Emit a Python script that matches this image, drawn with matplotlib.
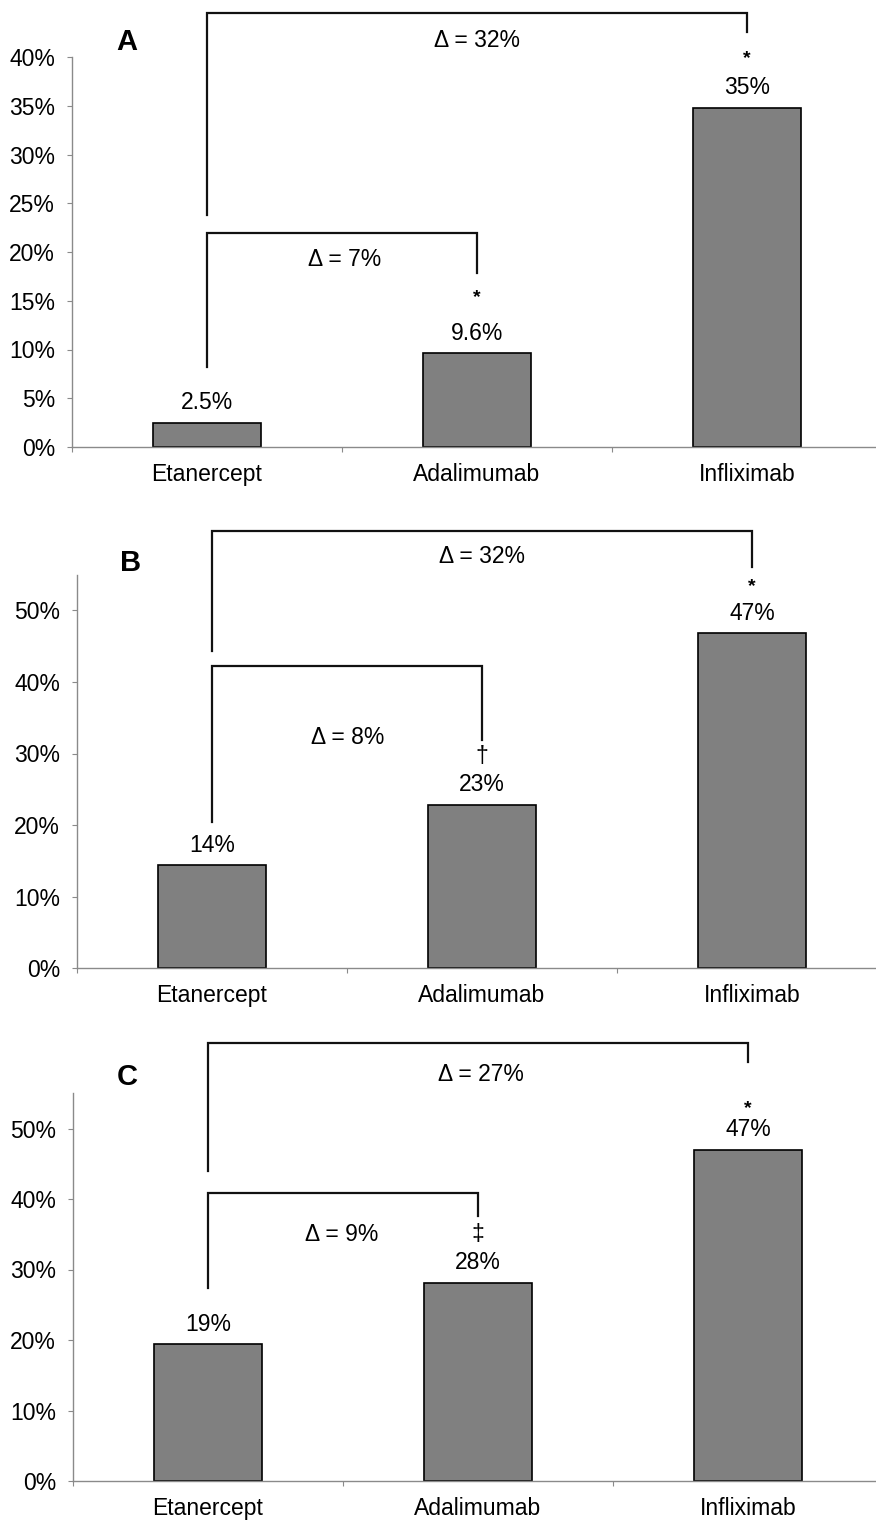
import matplotlib

matplotlib.use("Agg")

import matplotlib.pyplot as plt
from matplotlib.ticker import FixedLocator, PercentFormatter

plt.rcParams["font.family"] = ["Liberation Sans", "DejaVu Sans"]

W, H = 876, 1522
DPI = 100
PX = 72 / DPI  # points per pixel

DRUGS = ["Etanercept", "Adalimumab", "Infliximab"]

# Percentage of patients per agent, one list per panel
RATES_A = [2.5, 9.6, 34.8]
RATES_B = [14.4, 22.8, 46.8]
RATES_C = [19.4, 28.1, 47.0]

# Significance marks above each bar
MARKS_A = ["", "*", "*"]
MARKS_B = ["", "\u2020", "*"]
MARKS_C = ["", "\u2021", "*"]

# Differences versus etanercept: (adalimumab, infliximab)
DELTAS_A = [7, 32]
DELTAS_B = [8, 32]
DELTAS_C = [9, 27]

GRAY = "#808080"
SPINE = "#8a8a8a"
FS = 16.5

# Layout per panel: axes box in pixels, y range, bracket geometry (data units)
PANELS = [
    dict(letter="A", rates=RATES_A, marks=MARKS_A, deltas=DELTAS_A,
         left=72, bottom=447, ymax=40, step=5, px_per=9.75, letter_xy=(127, 42),
         small=(8.2, 21.9, 17.8), big=(23.8, 44.5, 42.6),
         small_txt=(0.51, 19.2), big_txt=(1.0, 41.7), mark_px=[0, 56, 49]),
    dict(letter="B", rates=RATES_B, marks=MARKS_B, deltas=DELTAS_B,
         left=77, bottom=968, ymax=55, step=10, px_per=7.15, letter_xy=(131, 563),
         small=(20.4, 42.2, 31.9), big=(44.3, 61.1, 56.1),
         small_txt=(0.504, 32.3), big_txt=(1.0, 57.6), mark_px=[0, 48, 47]),
    dict(letter="C", rates=RATES_C, marks=MARKS_C, deltas=DELTAS_C,
         left=73, bottom=1481, ymax=55, step=10, px_per=7.05, letter_xy=(127, 1077),
         small=(27.4, 40.9, 37.6), big=(44.0, 62.1, 59.4),
         small_txt=(0.496, 34.9), big_txt=(1.01, 57.6), mark_px=[0, 48, 41]),
]


def rate_label(value):
    return f"{value:.1f}%" if value < 10 else f"{value:.0f}%"


def bracket(ax, x_right, lo, top, tip):
    ax.plot([0, 0, x_right, x_right], [lo, top, top, tip], color="#111111",
            linewidth=1.6, clip_on=False, solid_joinstyle="miter")


fig = plt.figure(figsize=(W / DPI, H / DPI), dpi=DPI)
fig.patch.set_facecolor("white")

for panel in PANELS:
    height_px = panel["ymax"] * panel["px_per"]
    ax = fig.add_axes([
        panel["left"] / W,
        (H - panel["bottom"]) / H,
        810 / W,
        height_px / H,
    ])
    x = list(range(len(DRUGS)))
    rates = panel["rates"]
    ax.bar(x, rates, width=0.4, color=GRAY, edgecolor="black", linewidth=1.2, zorder=2)
    ax.set_xlim(-0.5, 2.5)
    ax.set_ylim(0, panel["ymax"])

    for spine in ("top", "right"):
        ax.spines[spine].set_visible(False)
    for spine in ("left", "bottom"):
        ax.spines[spine].set_color(SPINE)
        ax.spines[spine].set_linewidth(1.0)

    ax.set_yticks(range(0, panel["ymax"] + 1, panel["step"]))
    ax.yaxis.set_major_formatter(PercentFormatter(decimals=0))
    ax.tick_params(axis="y", length=5 * PX, width=0.8, color=SPINE, pad=12 * PX,
                   labelsize=FS)
    ax.set_xticks(x, DRUGS)
    ax.tick_params(axis="x", which="major", length=0, pad=16 * PX, labelsize=FS)
    ax.xaxis.set_minor_locator(FixedLocator([-0.5, 0.5, 1.5]))
    ax.tick_params(axis="x", which="minor", length=5 * PX, width=0.8, color=SPINE)

    for xi, value, mark, mark_px in zip(x, rates, panel["marks"], panel["mark_px"]):
        ax.annotate(rate_label(value), (xi, value), xytext=(0, 20 * PX),
                    textcoords="offset points", ha="center", va="center", fontsize=FS)
        if mark:
            star = mark == "*"
            ax.annotate(mark, (xi, value), xytext=(0, mark_px * PX),
                        textcoords="offset points", ha="center", va="center",
                        fontsize=14 if star else FS,
                        fontweight="bold" if star else "normal",
                        annotation_clip=False)

    bracket(ax, 1, *panel["small"])
    bracket(ax, 2, *panel["big"])
    ax.text(*panel["small_txt"], f"\u0394 = {panel['deltas'][0]}%", ha="center",
            va="center", fontsize=FS)
    ax.text(*panel["big_txt"], f"\u0394 = {panel['deltas'][1]}%", ha="center",
            va="center", fontsize=FS, clip_on=False)

    lx, ly = panel["letter_xy"]
    fig.text(lx / W, 1 - ly / H, panel["letter"], ha="center", va="center",
             fontsize=21, fontweight="bold")

fig.savefig("out.png", dpi=DPI, facecolor="white")
